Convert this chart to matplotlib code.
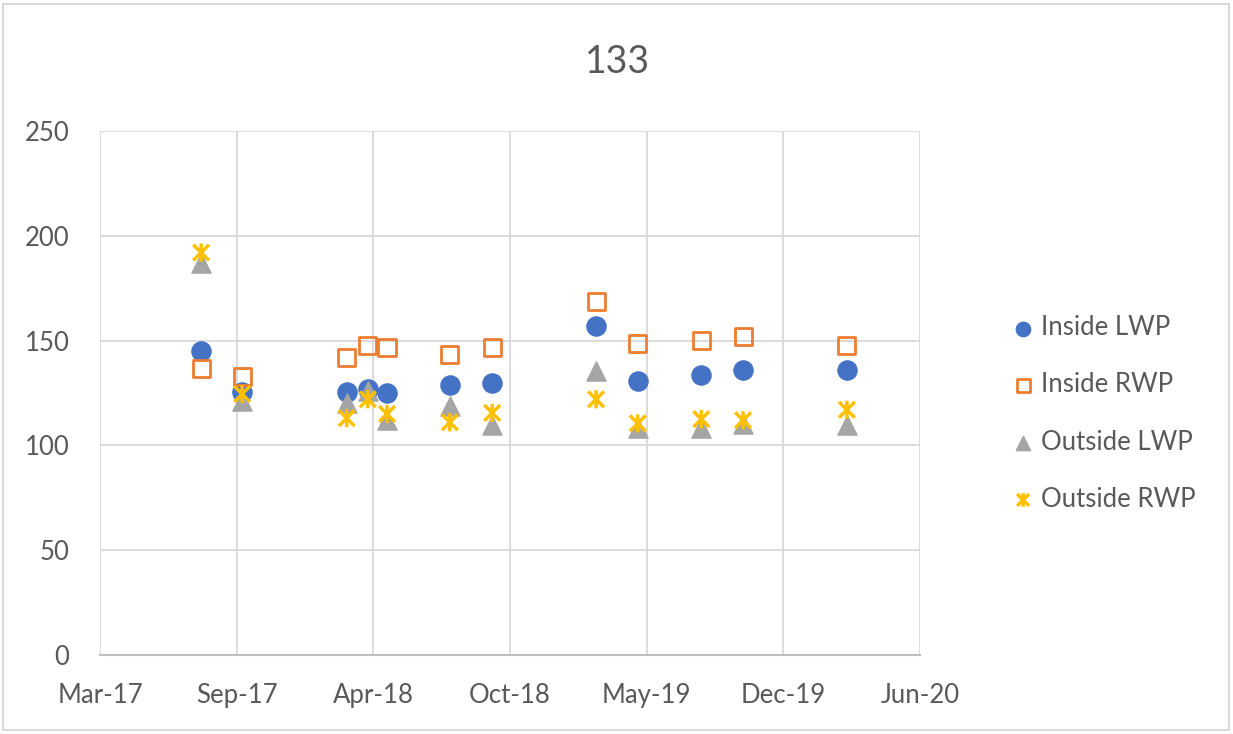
import datetime as dt
import numpy as np
import matplotlib
matplotlib.use("Agg")
import matplotlib.pyplot as plt
import matplotlib.dates as mdates
from matplotlib.path import Path
from matplotlib.patches import Rectangle

plt.rcParams['font.family'] = ['Lato', 'DejaVu Sans']

# sampling dates and values for site 133
dates = ["2017-08-01", "2017-09-30", "2018-03-02", "2018-04-02", "2018-04-30",
         "2018-07-31", "2018-10-01", "2019-03-02", "2019-05-02", "2019-08-03",
         "2019-10-03", "2020-03-03"]
inside_lwp = [145, 125.5, 125.5, 127, 125, 129, 130, 157, 130.5, 133.5, 136, 136]
inside_rwp = [136.5, 133, 142, 147.5, 146.5, 143.5, 146.5, 168.5, 148.5, 150, 152, 147.5]
outside_lwp = [187, 121, 120, 126, 112, 119, 109.5, 135.5, 108.5, 108.5, 110, 109.5]
outside_rwp = [192, 124.5, 113, 122, 115, 111, 115.5, 122, 110.5, 112.5, 112, 117]
series_names = ["Inside LWP", "Inside RWP", "Outside LWP", "Outside RWP"]

x = [mdates.date2num(dt.datetime.strptime(d, "%Y-%m-%d")) for d in dates]

# asterisk marker: an X with a vertical stroke
star = Path([(-1, -1), (1, 1), (-1, 1), (1, -1), (0, -1.15), (0, 1.15)],
            [Path.MOVETO, Path.LINETO, Path.MOVETO, Path.LINETO, Path.MOVETO, Path.LINETO])

fig = plt.figure(figsize=(12.33, 7.34), dpi=100)
ax = fig.add_axes([100 / 1233, 1 - 655 / 734, 820 / 1233, 524 / 734])

ax.scatter(x, inside_lwp, s=190, marker='o', color='#4472C4', label=series_names[0], zorder=3)
ax.scatter(x, inside_rwp, s=150, marker='s', facecolor='none', edgecolor='#ED7D31',
           linewidth=2, label=series_names[1], zorder=4)
ax.scatter(x, outside_lwp, s=190, marker='^', color='#A5A5A5', label=series_names[2], zorder=5)
ax.scatter(x, outside_rwp, s=170, marker=star, facecolor='none', edgecolor='#FFC000',
           linewidth=2.5, label=series_names[3], zorder=6)

# date axis runs on 200-day steps
start = mdates.date2num(dt.datetime(2017, 3, 6))
ticks = [start + 200 * i for i in range(7)]
ax.set_xlim(ticks[0], ticks[-1])
ax.set_xticks(ticks)
ax.xaxis.set_major_formatter(mdates.DateFormatter('%b-%y'))
ax.set_ylim(0, 250)
ax.set_yticks(np.arange(0, 251, 50))

ax.grid(True, color='#d9d9d9', linewidth=1.3)
ax.set_axisbelow(True)
for side in ['left', 'right', 'top']:
    ax.spines[side].set_visible(False)
ax.spines['bottom'].set_color('#bfbfbf')
ax.spines['bottom'].set_linewidth(1.5)
ax.tick_params(axis='both', length=0, labelsize=18.5, labelcolor='#595959')
ax.tick_params(axis='y', pad=22)
ax.tick_params(axis='x', pad=20)

fig.text(618 / 1233, 1 - 62 / 734, "133", ha='center', va='center',
         fontsize=27, color='#595959')

fig.legend(loc='center left', bbox_to_anchor=(1000 / 1233, 1 - 413.5 / 734),
           frameon=False, fontsize=18.5, labelcolor='#595959', labelspacing=1.25,
           handlelength=1.0, handletextpad=0.2, borderaxespad=0, markerscale=0.75)

fig.add_artist(Rectangle((3 / 1233, 4 / 734), 1226 / 1233, 726 / 734,
                         transform=fig.transFigure, fill=False,
                         edgecolor='#d9d9d9', linewidth=1.5))

fig.savefig("out.png", dpi=100)
